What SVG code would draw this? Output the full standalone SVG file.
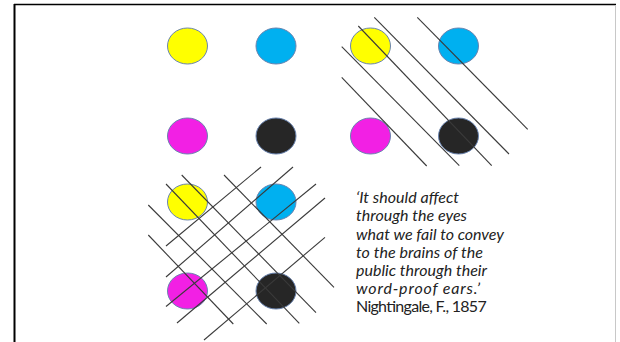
<svg xmlns="http://www.w3.org/2000/svg" width="620" height="342" viewBox="0 0 620 342">
<style>
.dot{stroke:#6a84b0;stroke-width:1}
.y{fill:#ffff00}.c{fill:#00b0f0}.m{fill:#f220e4}.k{fill:#262626}
.ln{stroke:#3a3a3a;stroke-width:1.1;fill:none}
.q{font-family:"Lato","Open Sans","Liberation Sans",sans-serif;font-size:16px;fill:#222}
.it{font-style:italic}
</style>
<rect x="0" y="0" width="620" height="342" fill="#ffffff"/>
<g id="frame">
<line x1="14.5" y1="4" x2="14.5" y2="342" stroke="#000" stroke-width="2"/>
<line x1="14" y1="4.5" x2="616" y2="4.5" stroke="#000" stroke-width="1.6"/>
<line x1="615.5" y1="5" x2="615.5" y2="342" stroke="#c8c8c8" stroke-width="1"/>
</g>
<g id="group-plain">
<g id="p-yellow"><ellipse class="dot y" cx="187.5" cy="46" rx="20" ry="18"/></g>
<g id="p-cyan"><ellipse class="dot c" cx="276" cy="46" rx="20" ry="18"/></g>
<g id="p-magenta"><ellipse class="dot m" cx="187.5" cy="136" rx="20" ry="18"/></g>
<g id="p-black"><ellipse class="dot k" cx="276" cy="136" rx="20" ry="18"/></g>
</g>
<g id="group-hatched">
<g id="h-yellow"><ellipse class="dot y" cx="370.5" cy="46" rx="20" ry="18"/></g>
<g id="h-cyan"><ellipse class="dot c" cx="458.5" cy="46" rx="20" ry="18"/></g>
<g id="h-magenta"><ellipse class="dot m" cx="370.5" cy="136" rx="20" ry="18"/></g>
<g id="h-black"><ellipse class="dot k" cx="458.5" cy="136" rx="20" ry="18"/></g>
</g>
<g id="group-crossed">
<g id="x-yellow"><ellipse class="dot y" cx="187.5" cy="202" rx="20" ry="18"/></g>
<g id="x-cyan"><ellipse class="dot c" cx="276" cy="202" rx="20" ry="18"/></g>
<g id="x-magenta"><ellipse class="dot m" cx="187.5" cy="291" rx="20" ry="18"/></g>
<g id="x-black"><ellipse class="dot k" cx="276" cy="291" rx="20" ry="18"/></g>
</g>
<g id="connectors" class="ln">
<line x1="341.7" y1="77.3" x2="426.7" y2="166"/>
<line x1="341.7" y1="46.7" x2="459.3" y2="165.7"/>
<line x1="358.3" y1="26" x2="491.7" y2="165.7"/>
<line x1="374.3" y1="17.3" x2="509" y2="154"/>
<line x1="417.3" y1="17.3" x2="527.7" y2="129.3"/>
<line x1="148.3" y1="205" x2="266.7" y2="324"/>
<line x1="148.3" y1="235" x2="233.3" y2="324"/>
<line x1="166" y1="184" x2="299.3" y2="323.3"/>
<line x1="181.7" y1="175" x2="316" y2="312.7"/>
<line x1="224" y1="175" x2="334" y2="287.3"/>
<line x1="166" y1="246" x2="261" y2="167"/>
<line x1="166" y1="277" x2="293" y2="167"/>
<line x1="166" y1="306.5" x2="316" y2="184"/>
<line x1="177" y1="323" x2="325" y2="198"/>
<line x1="204" y1="340" x2="325" y2="237.3"/>
</g>
<g id="quote" class="q">
<text class="it" x="356" y="203.3" textLength="103" lengthAdjust="spacing">‘It should affect</text>
<text class="it" x="356" y="221.3" textLength="111" lengthAdjust="spacing">through the eyes</text>
<text class="it" x="356" y="239.5" textLength="148" lengthAdjust="spacing">what we fail to convey</text>
<text class="it" x="356" y="257.7" textLength="127" lengthAdjust="spacing">to the brains of the</text>
<text class="it" x="356" y="275.8" textLength="131" lengthAdjust="spacing">public through their</text>
<text class="it" x="356" y="294" textLength="124" lengthAdjust="spacing">word-proof ears.’</text>
<text x="356" y="312.2" textLength="130.7" lengthAdjust="spacing">Nightingale, F., 1857</text>
</g>
</svg>
